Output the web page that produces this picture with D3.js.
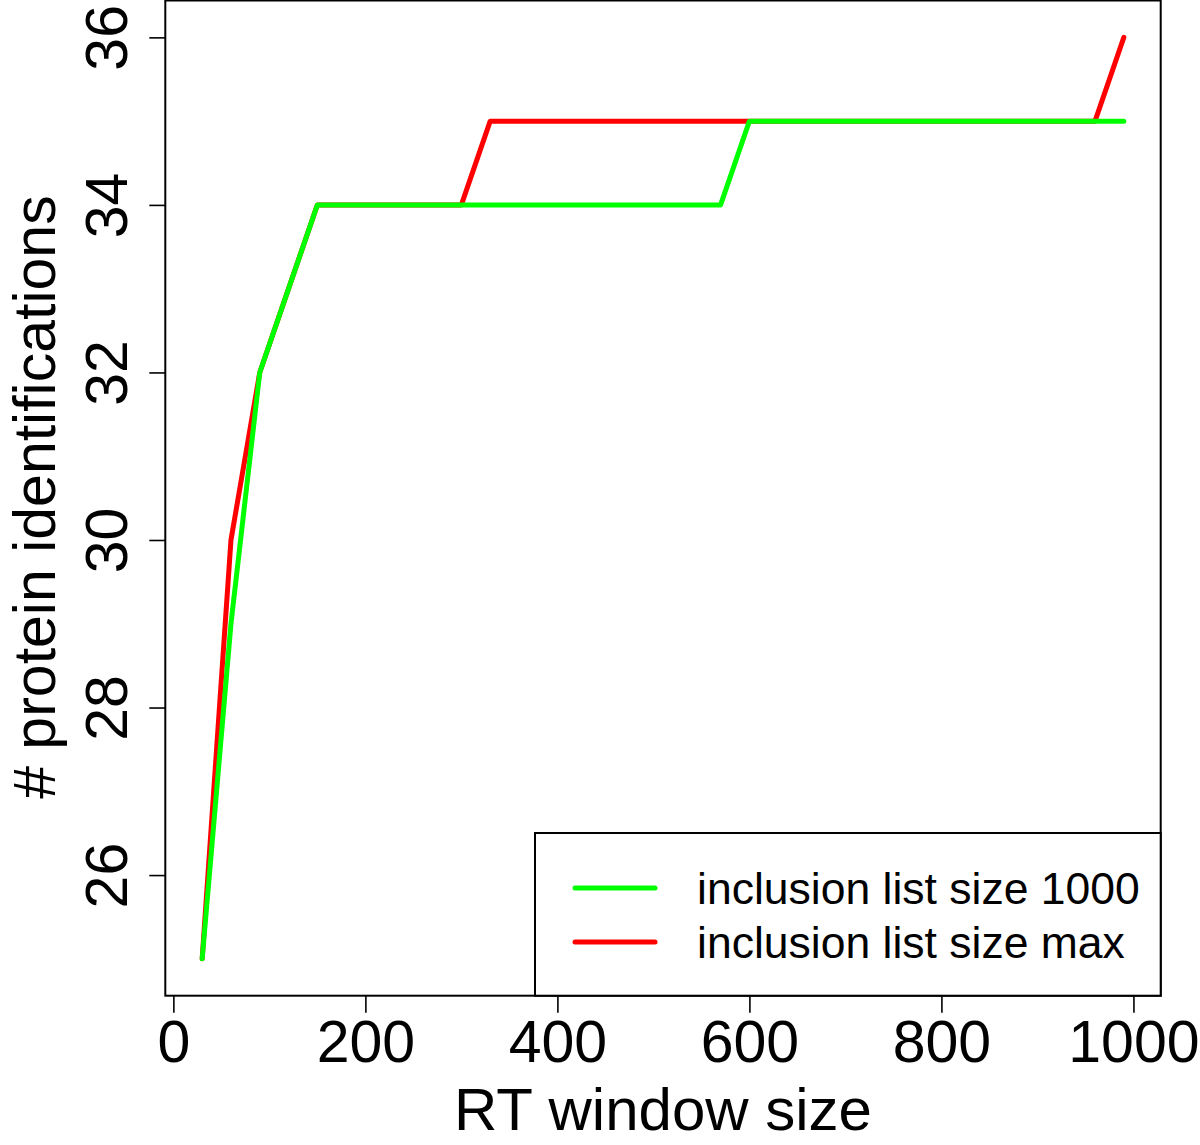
<!DOCTYPE html>
<html>
<head>
<meta charset="utf-8">
<script src="https://cdn.jsdelivr.net/npm/d3@7"></script>
<style>
  body { margin: 0; background: #fff; }
  svg text { font-family: "Liberation Sans", Arial, Helvetica, sans-serif; fill: #000; }
</style>
</head>
<body>
<div id="chart"></div>
<script>
// RT window sizes (x) and identifications for each inclusion list setting
const rtWindow = [30, 60, 90, 120, 150, 180, 210, 240, 270, 300, 330, 360, 390, 420, 450, 480,
  510, 540, 570, 600, 630, 660, 690, 720, 750, 780, 810, 840, 870, 900, 930, 960, 990];
const ids1000 = [25, 29, 32, 33, 34, 34, 34, 34, 34, 34, 34, 34, 34, 34, 34, 34,
  34, 34, 34, 35, 35, 35, 35, 35, 35, 35, 35, 35, 35, 35, 35, 35, 35];
const idsMax = [25, 30, 32, 33, 34, 34, 34, 34, 34, 34, 35, 35, 35, 35, 35, 35,
  35, 35, 35, 35, 35, 35, 35, 35, 35, 35, 35, 35, 35, 35, 35, 35, 36];
const seriesNames = ['inclusion list size 1000', 'inclusion list size max'];
const seriesColors = ['#00ff00', '#ff0000'];
const xTicks = [0, 200, 400, 600, 800, 1000];
const yTicks = [26, 28, 30, 32, 34, 36];

const W = 1200, H = 1145;
const plot = {left: 165.3, right: 1160.7, top: 0.5, bottom: 995.7};
const fsTick = 59, fsTitle = 60;

const svg = d3.select('#chart').append('svg')
  .attr('width', W)
  .attr('height', H)
  .attr('viewBox', `0,0,${W},${H}`);

// R style 4% padding around the data range
const xExt = d3.extent(rtWindow), xPad = (xExt[1] - xExt[0]) * 0.04;
const yExt = [d3.min(ids1000.concat(idsMax)), d3.max(ids1000.concat(idsMax))];
const yPad = (yExt[1] - yExt[0]) * 0.04;

const x = d3.scaleLinear().domain([xExt[0] - xPad, xExt[1] + xPad]).range([plot.left, plot.right]);
const y = d3.scaleLinear().domain([yExt[0] - yPad, yExt[1] + yPad]).range([plot.bottom, plot.top]);

// axes
const xAxis = svg.append('g')
  .attr('transform', `translate(0,${plot.bottom})`)
  .call(d3.axisBottom(x).tickValues(xTicks).tickSize(17).tickFormat(d3.format('d')));
xAxis.select('.domain').remove();
xAxis.selectAll('.tick line').attr('stroke', '#000').attr('stroke-width', 1.6);
xAxis.selectAll('.tick text')
  .attr('y', 66).attr('dy', 0)
  .attr('font-size', fsTick);

const yAxis = svg.append('g')
  .attr('transform', `translate(${plot.left},0)`)
  .call(d3.axisLeft(y).tickValues(yTicks).tickSize(16).tickFormat(d3.format('d')));
yAxis.select('.domain').remove();
yAxis.selectAll('.tick line').attr('stroke', '#000').attr('stroke-width', 1.6);
yAxis.selectAll('.tick text')
  .attr('x', 0).attr('dy', 0)
  .attr('text-anchor', 'middle')
  .attr('font-size', fsTick)
  .attr('transform', 'translate(-38,0) rotate(-90)');

// axis titles
svg.append('text')
  .attr('text-anchor', 'middle')
  .attr('font-size', fsTitle)
  .attr('transform', `translate(${(plot.left + plot.right) / 2},1130)`)
  .text('RT window size');

svg.append('text')
  .attr('text-anchor', 'middle')
  .attr('font-size', 59)
  .attr('transform', `translate(55,${(plot.top + plot.bottom) / 2 - 1}) rotate(-90)`)
  .text('# protein identifications');

// lines (red first, green drawn on top)
const line = d3.line().x(d => x(d[0])).y(d => y(d[1]));
const series = [ids1000, idsMax].map((vals, i) => ({
  name: seriesNames[i], color: seriesColors[i], pts: rtWindow.map((r, j) => [r, vals[j]])
}));

svg.append('g')
  .selectAll('path')
  .data(series.slice().reverse())
  .join('path')
  .attr('d', d => line(d.pts))
  .attr('fill', 'none')
  .attr('stroke', d => d.color)
  .attr('stroke-width', 5)
  .attr('stroke-linecap', 'round')
  .attr('stroke-linejoin', 'round');

// plot box
svg.append('rect')
  .attr('x', plot.left).attr('y', plot.top)
  .attr('width', plot.right - plot.left).attr('height', plot.bottom - plot.top)
  .attr('fill', 'none').attr('stroke', '#000').attr('stroke-width', 2);

// legend, bottom right
const legend = svg.append('g');
legend.append('rect')
  .attr('x', 535).attr('y', 833)
  .attr('width', plot.right - 535).attr('height', plot.bottom - 833)
  .attr('fill', '#fff').attr('stroke', '#000').attr('stroke-width', 2);

const items = legend.selectAll('g.item')
  .data(series)
  .join('g')
  .attr('class', 'item')
  .attr('transform', (d, i) => `translate(0,${888 + i * 54})`);

items.append('line')
  .attr('x1', 575).attr('x2', 655)
  .attr('stroke', d => d.color)
  .attr('stroke-width', 5)
  .attr('stroke-linecap', 'round');

items.append('text')
  .attr('font-size', 44.5)
  .attr('transform', 'translate(697,16)')
  .text(d => d.name);
</script>
</body>
</html>
